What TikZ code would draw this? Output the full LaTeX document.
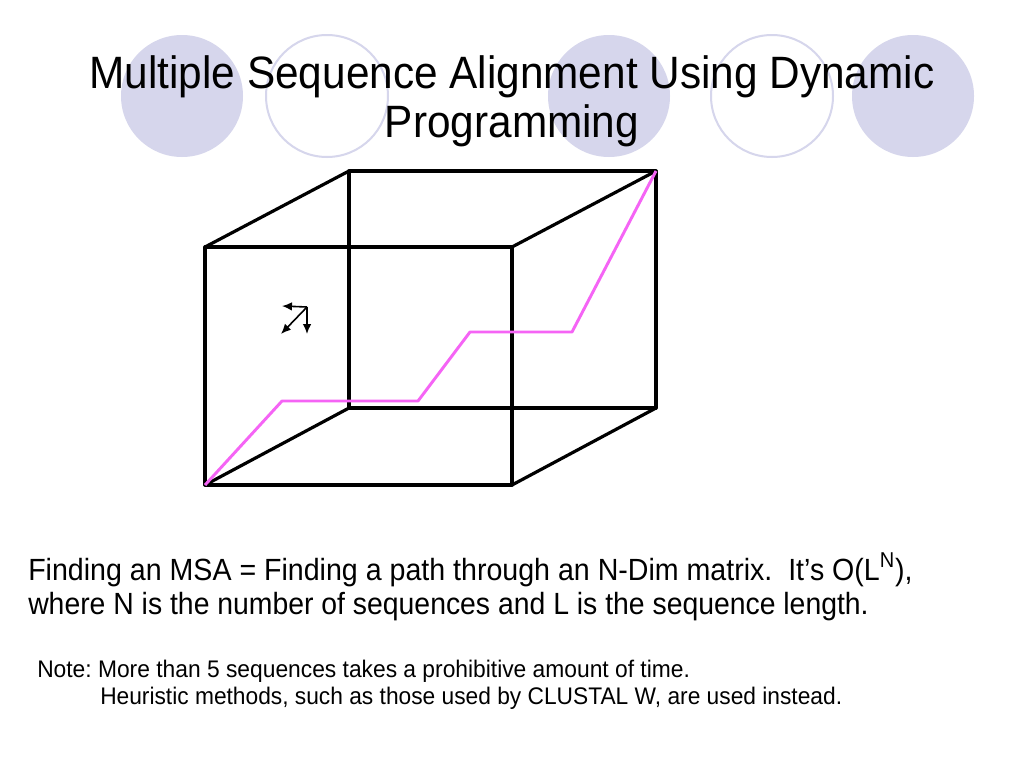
\documentclass[tikz,border=0pt]{standalone}
\usepackage{fontspec}
\usepackage{graphicx}
\setmainfont{Liberation Sans}
\usetikzlibrary{arrows.meta}
\definecolor{lav}{RGB}{214,214,236}
\definecolor{pathpink}{RGB}{245,100,245}
\frenchspacing
\begin{document}
\begin{tikzpicture}[x=0.75pt,y=-0.75pt,
  deco/.style={fill=lav,draw=none},
  decoring/.style={draw=lav,line width=1.5pt,fill=white},
  edge/.style={line width=2.4pt,line cap=round,line join=round},
  mpath/.style={draw=pathpink,line width=2.2pt,line join=round},
  txt/.style={inner sep=0pt,anchor=base west},
  small/.style={line width=1.2pt,-{Latex[length=7.5pt,width=6.5pt]}}]
\useasboundingbox (0,0) rectangle (1024,768);
\fill[white] (0,0) rectangle (1024,768);
% decorative circles
\path[deco] (182,96) circle (61);
\path[decoring] (327,96) circle (61);
\path[deco] (609,96) circle (61);
\path[decoring] (772,96) circle (61);
\path[deco] (913,96) circle (61);
% title
\node[inner sep=0pt,anchor=base] (t1) at (512,88) {\scalebox{0.934}[1]{\fontsize{34pt}{40pt}\selectfont Multiple Sequence Alignment Using Dynamic}};
\node[inner sep=0pt,anchor=base] (t2) at (512,137) {\scalebox{0.934}[1]{\fontsize{34pt}{40pt}\selectfont Programming}};
% cube
\coordinate (a) at (205,247);
\coordinate (b) at (512,247);
\coordinate (c) at (512,485);
\coordinate (d) at (205,485);
\coordinate (e) at (349,171);
\coordinate (f) at (656,171);
\coordinate (g) at (656,408);
\coordinate (h) at (349,408);
\draw[edge] (a) -- (b) -- (c) -- (d) -- cycle;
\draw[edge] (e) -- (f) -- (g) -- (h) -- cycle;
\draw[edge] (a) -- (e);
\draw[edge] (b) -- (f);
\draw[edge] (c) -- (g);
\draw[edge] (d) -- (h);
% path
\coordinate (p1) at (282,401);
\coordinate (p2) at (418,401);
\coordinate (p3) at (470,332);
\coordinate (p4) at (572,332);
\draw[mpath] (d) -- (p1) -- (p2) -- (p3) -- (p4) -- (f);
% small arrows
\coordinate (o) at (307,307);
\coordinate (ol) at (282,306);
\coordinate (od) at (307,334);
\coordinate (odl) at (281,334);
\draw[small] (o) -- (ol);
\draw[small] (o) -- (od);
\draw[small] (o) -- (odl);
% text
\node[txt] (l1) at (28,580) {\scalebox{0.932}[1]{\fontsize{23pt}{28pt}\selectfont Finding an MSA = Finding a path through an N-Dim matrix.\ \ It’s O(L\textsuperscript{N}),}};
\node[txt] (l2) at (28,614) {\scalebox{0.925}[1]{\fontsize{23pt}{28pt}\selectfont where N is the number of sequences and L is the sequence length.}};
\node[txt] (n1) at (37,677) {\scalebox{0.95}[1]{\fontsize{18pt}{22pt}\selectfont Note: More than 5 sequences takes a prohibitive amount of time.}};
\node[txt] (n2) at (100,704) {\scalebox{0.948}[1]{\fontsize{18pt}{22pt}\selectfont Heuristic methods, such as those used by CLUSTAL W, are used instead.}};
\end{tikzpicture}
\end{document}
